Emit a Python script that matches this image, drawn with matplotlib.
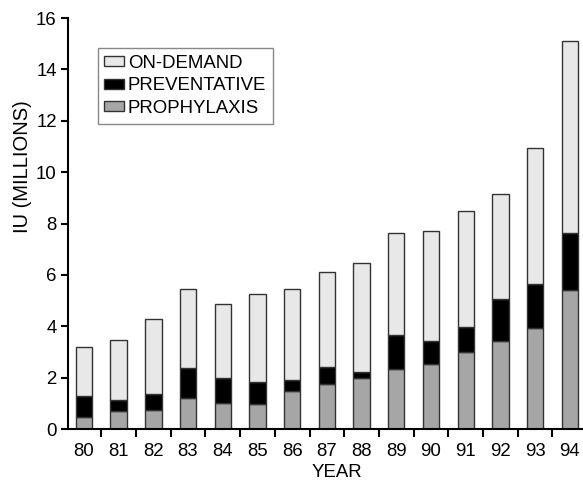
import numpy as np
import matplotlib
matplotlib.use("Agg")
import matplotlib.pyplot as plt

plt.rcParams['font.family'] = ['Liberation Sans', 'DejaVu Sans']

years = ['80', '81', '82', '83', '84', '85', '86', '87', '88', '89', '90', '91', '92', '93', '94']
# cumulative tops
prophylaxis = np.array([0.48, 0.69, 0.74, 1.22, 1.01, 0.96, 1.48, 1.74, 1.98, 2.35, 2.54, 2.98, 3.42, 3.92, 5.42])
prev_top = np.array([1.30, 1.12, 1.36, 2.36, 2.00, 1.84, 1.91, 2.40, 2.22, 3.67, 3.44, 3.96, 5.07, 5.63, 7.64])
total = np.array([3.18, 3.45, 4.28, 5.44, 4.86, 5.27, 5.44, 6.10, 6.46, 7.63, 7.72, 8.47, 9.16, 10.95, 15.12])
preventative = prev_top - prophylaxis
on_demand = total - prev_top

fs = 13.4
fig = plt.figure(figsize=(5.83, 4.80), dpi=100)
ax = fig.add_axes([0.1166, 0.10625, 0.8834, 0.85625])

x = np.arange(len(years))
w = 0.47
ec = '#333333'
b1 = ax.bar(x, prophylaxis, w, color='#a6a6a6', edgecolor=ec, linewidth=1)
b2 = ax.bar(x, preventative, w, bottom=prophylaxis, color='black', edgecolor=ec, linewidth=1)
b3 = ax.bar(x, on_demand, w, bottom=prev_top, color='#e8e8e8', edgecolor=ec, linewidth=1)

ax.set_xlim(-0.46, 14.38)
ax.set_ylim(0, 16)
ax.set_yticks(range(0, 17, 2))
ax.set_xticks(x)
ax.set_xticklabels(years)
ax.set_xticks(x[:-1] + 0.5, minor=True)
ax.tick_params(axis='x', which='major', length=0, pad=10, labelsize=fs)
ax.tick_params(axis='x', which='minor', length=6, width=1.5, direction='out')
ax.tick_params(axis='y', length=5, width=1.5, direction='out', labelsize=fs, pad=3)

for s in ['top', 'right']:
    ax.spines[s].set_visible(False)
ax.spines['left'].set_linewidth(1.5)
ax.spines['bottom'].set_linewidth(1.5)

ax.set_xlabel('YEAR', fontsize=fs)
ax.xaxis.set_label_coords(0.522, -0.086)
ax.set_ylabel('IU (MILLIONS)', fontsize=14.5)
ax.yaxis.set_label_coords(-0.07, 0.639)

leg = ax.legend((b3, b2, b1), ('ON-DEMAND', 'PREVENTATIVE', 'PROPHYLAXIS'),
                loc='upper left', bbox_to_anchor=(0.058, 0.927), borderaxespad=0,
                fontsize=fs, fancybox=False, framealpha=1, edgecolor='#888888',
                handlelength=1.08, handleheight=0.45, handletextpad=0.18,
                labelspacing=0.31, borderpad=0.35)
leg.get_frame().set_linewidth(1)

fig.savefig('out.png', dpi=100)
